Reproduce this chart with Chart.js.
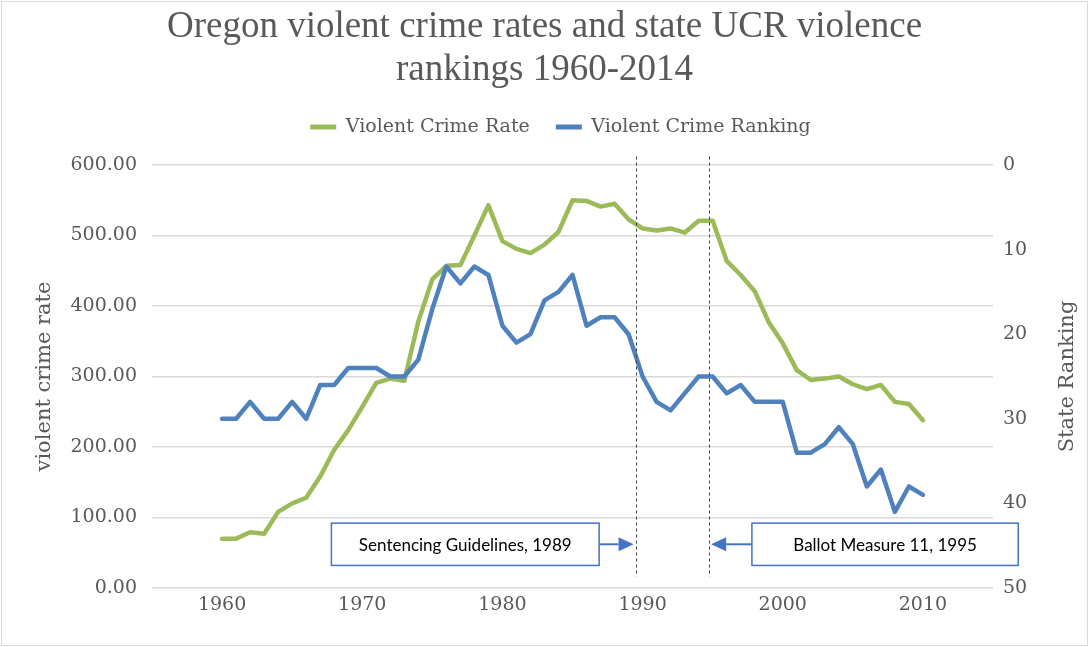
<!DOCTYPE html>
<html>
<head>
<meta charset="utf-8">
<title>Oregon violent crime rates and state UCR violence rankings 1960-2014</title>
<script src="https://cdn.jsdelivr.net/npm/chart.js@4.4.1/dist/chart.umd.min.js"></script>
<style>
  html, body { margin: 0; padding: 0; background: #ffffff; }
  canvas { display: block; }
</style>
</head>
<body>
<canvas id="crime-chart" width="1089" height="647"></canvas>
<script>
// values
const years = [
  1960, 1961, 1962, 1963, 1964, 1965, 1966, 1967, 1968, 1969,
  1970, 1971, 1972, 1973, 1974, 1975, 1976, 1977, 1978, 1979,
  1980, 1981, 1982, 1983, 1984, 1985, 1986, 1987, 1988, 1989,
  1990, 1991, 1992, 1993, 1994, 1995, 1996, 1997, 1998, 1999,
  2000, 2001, 2002, 2003, 2004, 2005, 2006, 2007, 2008, 2009,
  2010];

const crimeRate = [
  70, 70, 79, 77, 108, 120, 128, 158, 196, 224,
  257, 291, 297, 294, 378, 438, 457, 458, 500, 543,
  492, 481, 475, 487, 505, 550, 549, 541, 545, 523,
  510, 507, 510, 504, 521, 521, 464, 444, 421, 377,
  347, 309, 295, 297, 300, 289, 282, 288, 264, 261,
  238];

const stateRanking = [
  30, 30, 28, 30, 30, 28, 30, 26, 26, 24,
  24, 24, 25, 25, 23, 17, 12, 14, 12, 13,
  19, 21, 20, 16, 15, 13, 19, 18, 18, 20,
  25, 28, 29, 27, 25, 25, 27, 26, 28, 28,
  28, 34, 34, 33, 31, 33, 38, 36, 41, 38,
  39];

const xTickYears = [1960, 1970, 1980, 1990, 2000, 2010];
const seriesNames = ['Violent Crime Rate', 'Violent Crime Ranking'];

// the two policy markers and their callout boxes
const eventYears = [1989.5, 1994.75];
const eventLabels = ['Sentencing Guidelines, 1989', 'Ballot Measure 11, 1995'];

const GREEN = '#9BBB59';
const BLUE = '#4F81BD';
const GREY_TEXT = '#595959';
const SERIF = '"DejaVu Serif", serif';

const rateData = years.map((y, i) => ({x: y, y: crimeRate[i]}));
const rankData = years.map((y, i) => ({x: y, y: stateRanking[i]}));

// draws the dashed event lines, the callout boxes and the right axis title
const calloutPlugin = {
  id: 'callouts',
  afterDatasetsDraw(chart) {
    const ctx = chart.ctx;
    const xs = chart.scales.x;
    const ys = chart.scales.y;

    ctx.save();
    // dashed lines
    ctx.strokeStyle = '#404040';
    ctx.lineWidth = 1;
    ctx.setLineDash([3, 3]);
    eventYears.forEach(yr => {
      const px = Math.round(xs.getPixelForValue(yr)) + 0.5;
      ctx.beginPath();
      ctx.moveTo(px, ys.getPixelForValue(612));
      ctx.lineTo(px, ys.getPixelForValue(16));
      ctx.stroke();
    });
    ctx.setLineDash([]);

    // boxes: [left year, right year], arrow points to event line
    const boxes = [
      {from: 1967.8, to: 1986.9, side: 'right', target: eventYears[0]},
      {from: 1997.8, to: 2016.8, side: 'left', target: eventYears[1]}
    ];
    const top = ys.getPixelForValue(92);
    const bottom = ys.getPixelForValue(32);
    const midY = (top + bottom) / 2;

    boxes.forEach((b, i) => {
      const left = xs.getPixelForValue(b.from);
      const right = xs.getPixelForValue(b.to);
      ctx.fillStyle = '#ffffff';
      ctx.fillRect(left, top, right - left, bottom - top);
      ctx.strokeStyle = '#4472C4';
      ctx.lineWidth = 1.5;
      ctx.strokeRect(left, top, right - left, bottom - top);

      ctx.fillStyle = '#000000';
      ctx.font = '17px Lato, "Liberation Sans", sans-serif';
      ctx.textAlign = 'center';
      ctx.textBaseline = 'middle';
      ctx.fillText(eventLabels[i], (left + right) / 2, midY + 1);

      // arrow
      const tip = xs.getPixelForValue(b.target) + (b.side === 'right' ? -2 : 2);
      const start = b.side === 'right' ? right : left;
      const dir = b.side === 'right' ? 1 : -1;
      const headLen = 15;
      ctx.strokeStyle = '#4472C4';
      ctx.fillStyle = '#4472C4';
      ctx.lineWidth = 2;
      ctx.beginPath();
      ctx.moveTo(start, midY);
      ctx.lineTo(tip - dir * headLen, midY);
      ctx.stroke();
      ctx.beginPath();
      ctx.moveTo(tip, midY);
      ctx.lineTo(tip - dir * headLen, midY - 7);
      ctx.lineTo(tip - dir * headLen, midY + 7);
      ctx.closePath();
      ctx.fill();
    });

    // right axis title, reading bottom to top like the left one
    const y2 = chart.scales.y2;
    ctx.fillStyle = GREY_TEXT;
    ctx.font = '21px ' + SERIF;
    ctx.textAlign = 'center';
    ctx.textBaseline = 'middle';
    ctx.translate(1068, (y2.top + y2.bottom) / 2);
    ctx.rotate(-Math.PI / 2);
    ctx.fillText('State Ranking', 0, 0);
    ctx.restore();
  },
  afterDraw(chart) {
    // faint outer border of the chart area
    const ctx = chart.ctx;
    ctx.save();
    ctx.strokeStyle = '#D9D9D9';
    ctx.lineWidth = 1;
    ctx.strokeRect(1.5, 1.5, chart.width - 3, chart.height - 3);
    ctx.restore();
  }
};

// extra room under the legend, and nudge it right a little
const legendGap = {
  id: 'legendGap',
  beforeInit(chart) {
    const fit = chart.legend.fit;
    chart.legend.fit = function () {
      fit.bind(chart.legend)();
      this.height += 18.5;
    };
  },
  afterLayout(chart) {
    chart.legend.left += 16;
    chart.legend.right += 16;
  }
};

const ctx = document.getElementById('crime-chart').getContext('2d');
new Chart(ctx, {
  type: 'line',
  data: {
    datasets: [
      {
        label: seriesNames[0],
        data: rateData,
        yAxisID: 'y',
        borderColor: GREEN,
        backgroundColor: GREEN,
        borderWidth: 4.5,
        pointRadius: 0,
        tension: 0,
        borderJoinStyle: 'round',
        borderCapStyle: 'round',
        order: 2
      },
      {
        label: seriesNames[1],
        data: rankData,
        yAxisID: 'y2',
        borderColor: BLUE,
        backgroundColor: BLUE,
        borderWidth: 4.5,
        pointRadius: 0,
        tension: 0,
        borderJoinStyle: 'round',
        borderCapStyle: 'round',
        order: 1
      }
    ]
  },
  options: {
    responsive: false,
    animation: false,
    layout: { padding: 0 },
    plugins: {
      title: {
        display: true,
        text: ['Oregon violent crime rates and state UCR violence', 'rankings 1960-2014'],
        color: GREY_TEXT,
        font: { family: '"Liberation Serif", serif', size: 37, weight: 'normal', lineHeight: 1.162 },
        padding: { top: 5.5, bottom: 0 }
      },
      legend: {
        position: 'top',
        labels: {
          color: GREY_TEXT,
          font: { family: SERIF, size: 19 },
          boxWidth: 26,
          boxHeight: 5,
          padding: 26,
          sort: (a, b) => a.datasetIndex - b.datasetIndex,
          generateLabels(chart) {
            const items = Chart.defaults.plugins.legend.labels.generateLabels(chart);
            items.forEach(it => { it.lineWidth = 0; });
            return items;
          }
        }
      },
      tooltip: { enabled: false }
    },
    scales: {
      x: {
        type: 'linear',
        min: 1955,
        max: 2015,
        afterBuildTicks(axis) {
          axis.ticks = xTickYears.map(v => ({value: v}));
        },
        afterFit(axis) { axis.height = 59; },
        grid: { display: false, drawTicks: false },
        border: { display: false },
        ticks: {
          color: GREY_TEXT,
          font: { family: SERIF, size: 19 },
          padding: 6,
          maxRotation: 0,
          callback: v => String(v)
        }
      },
      y: {
        position: 'left',
        min: 0,
        max: 600,
        afterFit(axis) { axis.width = 152; },
        grid: { color: '#D9D9D9', lineWidth: 1.5, drawTicks: false },
        border: { display: false },
        ticks: {
          stepSize: 100,
          color: GREY_TEXT,
          font: { family: SERIF, size: 19 },
          padding: 15,
          callback: v => v.toFixed(2)
        },
        title: {
          display: true,
          text: 'violent crime rate',
          color: GREY_TEXT,
          font: { family: SERIF, size: 21 },
          padding: { top: 32, bottom: 0 }
        }
      },
      y2: {
        position: 'right',
        reverse: true,
        min: 0,
        max: 50,
        afterFit(axis) { axis.width = 96; },
        grid: { display: false, drawTicks: false },
        border: { display: false },
        ticks: {
          stepSize: 10,
          color: GREY_TEXT,
          font: { family: SERIF, size: 19 },
          padding: 10
        }
      }
    }
  },
  plugins: [calloutPlugin, legendGap]
});
</script>
</body>
</html>
